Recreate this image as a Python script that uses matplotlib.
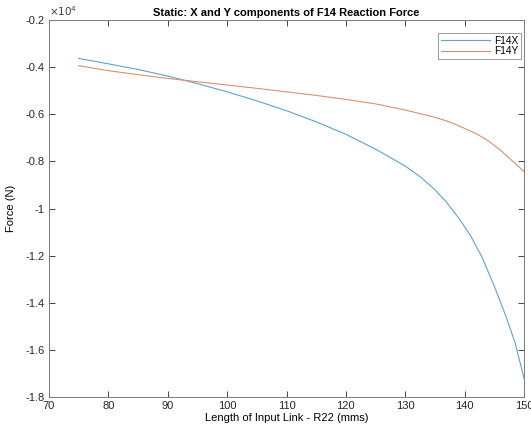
import numpy as np
import matplotlib
matplotlib.use("Agg")
import matplotlib.pyplot as plt
from matplotlib.ticker import FuncFormatter

plt.rcParams['font.family'] = ['Liberation Sans', 'DejaVu Sans']
plt.rcParams['axes.unicode_minus'] = False

# values (N)
r22 = [75, 80, 85, 90, 95, 100, 105, 110, 115, 120, 125, 130, 132.5, 135, 137, 139, 141, 143,
       145, 147, 148.5, 150]
f14x = [-3630, -3860, -4100, -4380, -4700, -5050, -5430, -5850, -6320, -6850, -7480, -8200,
        -8650, -9200, -9750, -10400, -11150, -12100, -13300, -14600, -15700, -17200]
r22_y = [75, 80, 85, 90, 95, 100, 105, 110, 115, 120, 125, 130, 135, 137.5, 140, 142, 144,
         146, 148, 150]
f14y = [-3940, -4150, -4320, -4480, -4620, -4760, -4900, -5050, -5200, -5370, -5560, -5820,
        -6130, -6330, -6600, -6830, -7130, -7520, -7970, -8430]

xticks = np.arange(70, 151, 10)
yticks = np.arange(-18000, -1999, 2000)

fig = plt.figure(figsize=(5.31, 4.30), dpi=100)
ax = fig.add_axes([0.0923, 0.0767, 0.8945, 0.8768])

ax.plot(r22, f14x, color='#62a2cc', lw=0.8, label='F14X')
ax.plot(r22_y, f14y, color='#d8916e', lw=0.8, label='F14Y')

ax.set_xlim(70, 150)
ax.set_ylim(-18000, -2000)
ax.set_xticks(xticks)
ax.set_yticks(yticks)
ax.yaxis.set_major_formatter(FuncFormatter(lambda v, p: '%g' % round(v / 1e4, 2)))
ax.tick_params(direction='in', top=True, right=True, length=4, width=0.6,
               labelsize=8, colors='#262626', pad=3)
for s in ax.spines.values():
    s.set_color('#7a7a7a')
    s.set_linewidth(0.7)

ax.set_title('Static: X and Y components of F14 Reaction Force', fontsize=8,
             fontweight='bold', pad=3)
ax.set_xlabel('Length of Input Link - R22 (mms)', fontsize=8, labelpad=1)
ax.set_ylabel('Force (N)', fontsize=8, labelpad=7)
ax.text(0.0, 1.004, r'$\times10^4$', transform=ax.transAxes, fontsize=7.5,
        color='#404040', va='bottom', ha='left')

leg = ax.legend(loc='upper right', bbox_to_anchor=(0.994, 0.966), borderaxespad=0,
                fontsize=7.3, handlelength=4.8, handletextpad=0.4, borderpad=0.3,
                labelspacing=0.05, fancybox=False, framealpha=1)
leg.get_frame().set_edgecolor('#9a9a9a')
leg.get_frame().set_linewidth(0.7)

fig.savefig('out.png', dpi=100)
